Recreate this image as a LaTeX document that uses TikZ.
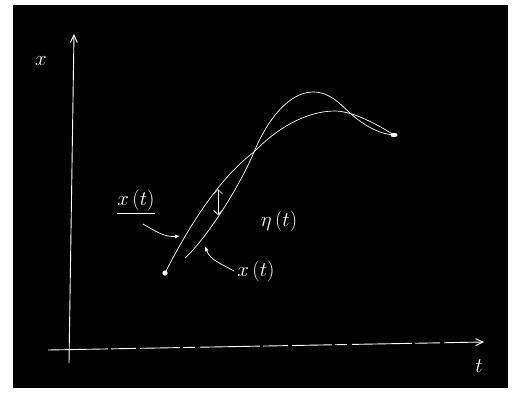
\documentclass[tikz,border=0pt]{standalone}
\usepackage{amsmath,amssymb}
\usepackage{xcolor}
\usetikzlibrary{arrows.meta,calc}
\definecolor{board}{RGB}{2,2,2}

\begin{document}
\begin{tikzpicture}[x=1pt, y=-1pt,
  chalk/.style={white, line width=0.7pt},
  axis/.style={chalk, line width=0.9pt, -{Straight Barb[length=2.6mm, width=2.4mm]}},
  lbl/.style={text=white, font=\huge},
  pointer/.style={chalk, -{Latex[length=1.8mm, width=1.4mm]}}]
  \useasboundingbox (0,0) rectangle (514,394);
  \fill[white] (0,0) rectangle (514,394);
  \fill[board] (13,5) rectangle (508,388);
  % axes
  \coordinate (xbot) at (69,363);
  \coordinate (xtop) at (74,34);
  \coordinate (tleft) at (48,350);
  \coordinate (tright) at (484,342);
  \draw[axis] (xbot) -- (xtop);
  \draw[axis, dash pattern=on 60pt off 3pt on 25pt off 4pt on 40pt off 3pt on 12pt off 5pt] (tleft) -- (tright);
  \node[lbl] (xlab) at (41,61) {$x$};
  \node[lbl] (tlab) at (479,366) {$t$};
  % the two paths
  \coordinate (start) at (165,273);
  \coordinate (cross1) at (254,152);
  \coordinate (cross2) at (350,113);
  \coordinate (finish) at (394,135);
  \draw[chalk] (start) .. controls (192,220) and (222,176) .. (cross1)
    .. controls (275,130) and (305,111) .. (335,111)
    .. controls (350,111) and (372,121) .. (finish);
  \draw[chalk] (185,258) .. controls (205,240) and (238,190) .. (cross1)
    .. controls (268,118) and (290,92) .. (313,92)
    .. controls (330,92) and (340,104) .. (cross2)
    .. controls (362,124) and (378,134) .. (finish);
  \fill[white] (start) circle (2.6);
  \fill[white] (finish) ellipse (3.5 and 2.2);
  % labels
  \node[lbl] (xtrue) at (136,202) {$\underline{x\,(t)}$};
  \node[lbl] (xnom) at (256,271) {$x\,(t)$};
  \node[lbl] (eta) at (279,221) {$\eta\,(t)$};
  \coordinate (onA) at (180,236);
  \coordinate (onB) at (205,246);
  \coordinate (etaA) at (218,189);
  \coordinate (etaB) at (218,215);
  \draw[pointer] (143,224) to[out=-30, in=185] (onA);
  \draw[pointer] (xnom.west) to[out=150, in=-70] (onB);
  \draw[chalk, {Straight Barb[length=1.5mm]}-{Straight Barb[length=1.5mm]}] (etaA) -- (etaB);
\end{tikzpicture}
\end{document}
